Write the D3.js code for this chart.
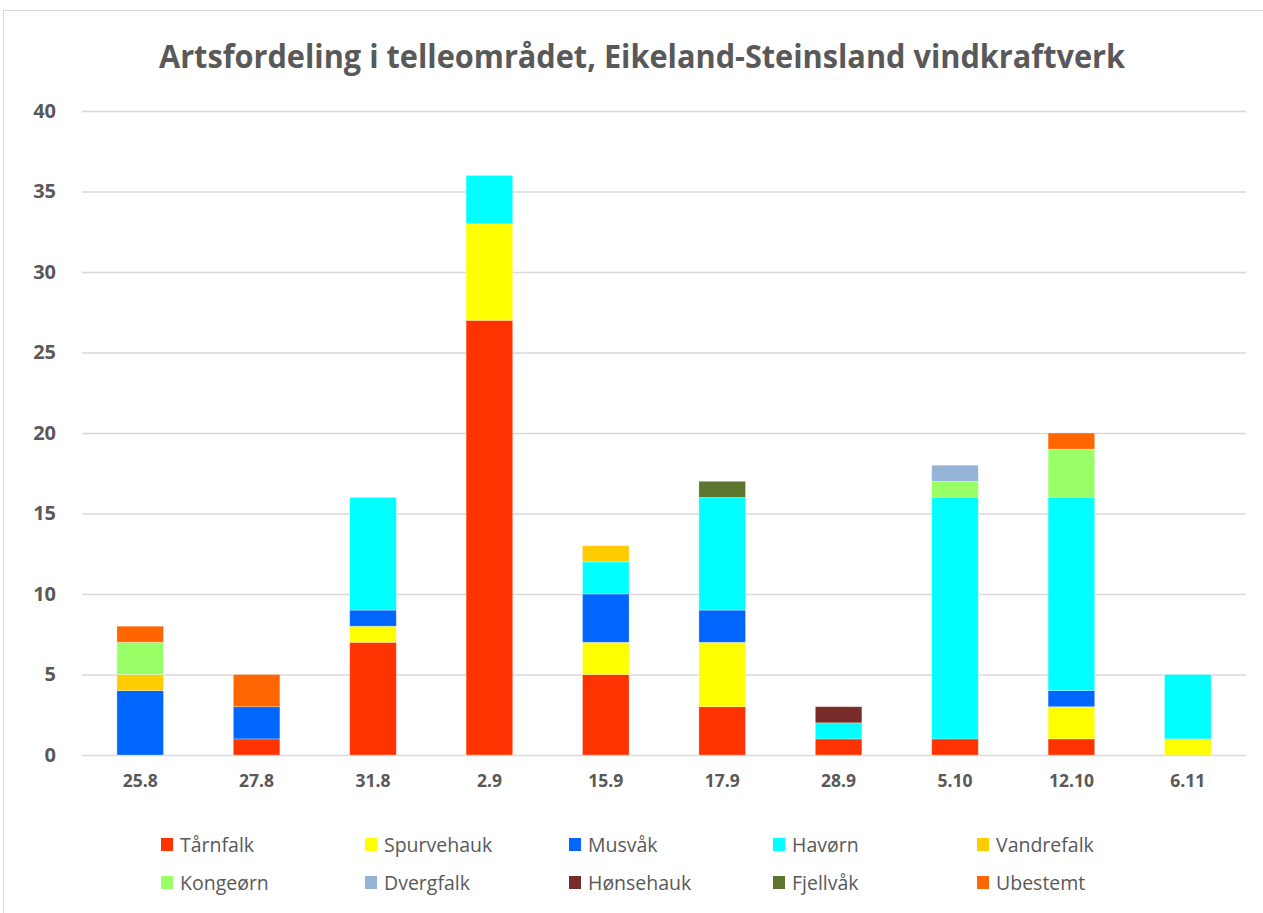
<!DOCTYPE html>
<html>
<head>
<meta charset="utf-8">
<script src="https://cdn.jsdelivr.net/npm/d3@7"></script>
<style>
  body { margin: 0; background: #fff; }
  svg { display: block; font-family: "Open Sans", sans-serif; }
</style>
</head>
<body>
<svg id="chart" width="1263" height="913"></svg>
<script>
// categories (dates) and species
const dates = ["25.8", "27.8", "31.8", "2.9", "15.9", "17.9", "28.9", "5.10", "12.10", "6.11"];
const species = ["Tårnfalk", "Spurvehauk", "Musvåk", "Havørn", "Vandrefalk",
                 "Kongeørn", "Dvergfalk", "Hønsehauk", "Fjellvåk", "Ubestemt"];
const colors = ["#FF3300", "#FFFF00", "#0066FF", "#00FFFF", "#FFCC00",
                "#99FF66", "#95B3D7", "#772C2A", "#5E7530", "#FF6600"];

// counts per species, one value per date
const tarnfalk   = [0, 1, 7, 27, 5, 3, 1, 1, 1, 0];
const spurvehauk = [0, 0, 1, 6, 2, 4, 0, 0, 2, 1];
const musvak     = [4, 2, 1, 0, 3, 2, 0, 0, 1, 0];
const havorn     = [0, 0, 7, 3, 2, 7, 1, 15, 12, 4];
const vandrefalk = [1, 0, 0, 0, 1, 0, 0, 0, 0, 0];
const kongeorn   = [2, 0, 0, 0, 0, 0, 0, 1, 3, 0];
const dvergfalk  = [0, 0, 0, 0, 0, 0, 0, 1, 0, 0];
const honsehauk  = [0, 0, 0, 0, 0, 0, 1, 0, 0, 0];
const fjellvak   = [0, 0, 0, 0, 0, 1, 0, 0, 0, 0];
const ubestemt   = [1, 2, 0, 0, 0, 0, 0, 0, 1, 0];

const yTicks = [0, 5, 10, 15, 20, 25, 30, 35, 40];

const series = [tarnfalk, spurvehauk, musvak, havorn, vandrefalk,
                kongeorn, dvergfalk, honsehauk, fjellvak, ubestemt];

const rows = dates.map((d, i) => {
  const r = { date: d };
  species.forEach((s, j) => { r[s] = series[j][i]; });
  return r;
});

const svg = d3.select("#chart");
const textCol = "#595959";

// outer frame
svg.append("rect")
  .attr("x", 3.5).attr("y", 10.5)
  .attr("width", 1270).attr("height", 910)
  .attr("fill", "none").attr("stroke", "#d9d9d9");

// title
svg.append("text")
  .attr("x", 642).attr("y", 68)
  .attr("text-anchor", "middle")
  .attr("font-size", 32).attr("font-weight", "bold")
  .attr("fill", textCol)
  .attr("textLength", 966)
  .attr("lengthAdjust", "spacingAndGlyphs")
  .text("Artsfordeling i telleområdet, Eikeland-Steinsland vindkraftverk");

const x = d3.scaleBand().domain(dates).range([82, 1246]).paddingInner(0.6).paddingOuter(0.3);
const y = d3.scaleLinear().domain([0, 40]).range([755, 111]);

// gridlines
svg.append("g")
  .selectAll("line")
  .data(yTicks)
  .join("line")
  .attr("x1", 82).attr("x2", 1246)
  .attr("y1", d => y(d) + 0.5).attr("y2", d => y(d) + 0.5)
  .attr("stroke", "#d9d9d9").attr("stroke-width", 1.5);

// y axis labels
const yAxis = d3.axisLeft(y).tickValues(yTicks).tickSize(0).tickPadding(0);
svg.append("g")
  .attr("transform", "translate(56,0)")
  .call(yAxis)
  .call(g => g.select(".domain").remove())
  .call(g => g.selectAll("text")
    .attr("font-family", "'Open Sans', sans-serif")
    .attr("font-size", 20).attr("font-weight", "bold")
    .attr("fill", textCol));

// stacked bars
const stack = d3.stack().keys(species)(rows);
svg.append("g")
  .selectAll("g")
  .data(stack)
  .join("g")
  .attr("fill", (d, i) => colors[i])
  .selectAll("rect")
  .data(d => d.filter(v => v[1] - v[0] > 0))
  .join("rect")
  .attr("x", d => x(d.data.date))
  .attr("width", x.bandwidth())
  .attr("y", d => y(d[1]))
  .attr("height", d => y(d[0]) - y(d[1]))
  .attr("stroke", "#ffffff").attr("stroke-opacity", 0.35).attr("stroke-width", 0.8);

// x axis labels
const xAxis = d3.axisBottom(x).tickSize(0).tickPadding(0);
svg.append("g")
  .attr("transform", "translate(0,775)")
  .call(xAxis)
  .call(g => g.select(".domain").remove())
  .call(g => g.selectAll("text")
    .attr("font-family", "'Open Sans', sans-serif")
    .attr("font-size", 17.5).attr("font-weight", "bold")
    .attr("fill", textCol));

// legend
const legend = svg.append("g")
  .selectAll("g")
  .data(species)
  .join("g")
  .attr("transform", (d, i) => `translate(${161 + (i % 5) * 204},${i < 5 ? 838 : 876})`);
legend.append("rect")
  .attr("width", 12).attr("height", 13)
  .attr("fill", (d, i) => colors[i]);
legend.append("text")
  .attr("x", 19).attr("y", 14)
  .attr("font-size", 19.5)
  .attr("fill", textCol)
  .text(d => d);
</script>
</body>
</html>
